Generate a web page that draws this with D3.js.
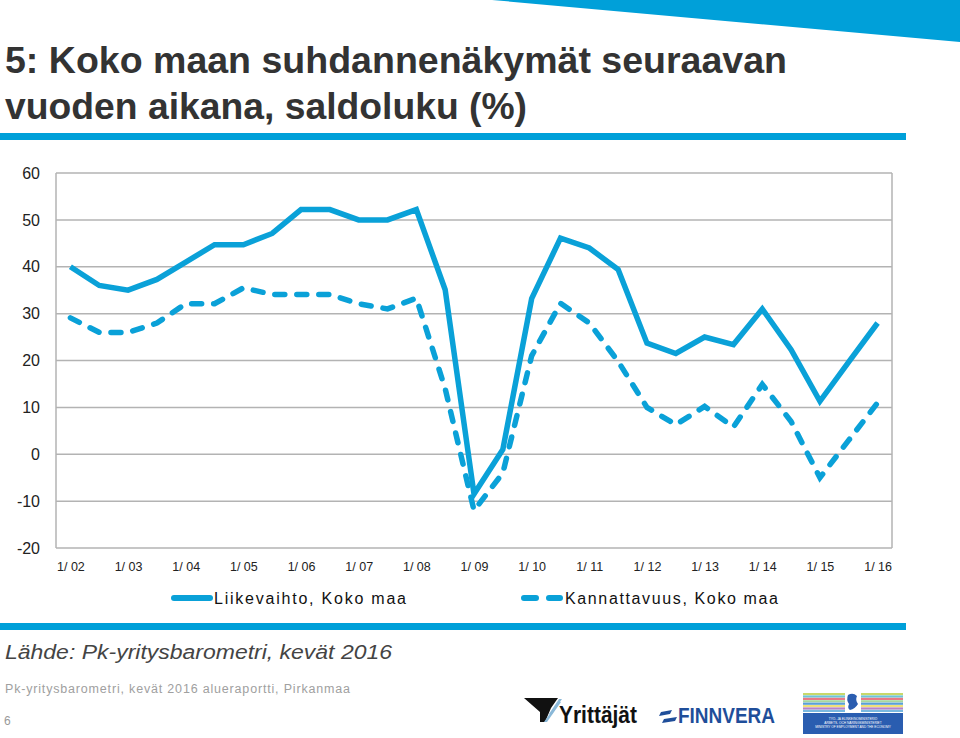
<!DOCTYPE html>
<html><head><meta charset="utf-8">
<script src="https://cdn.jsdelivr.net/npm/d3@7"></script>
<style>body{margin:0;background:#fff}svg{display:block}</style>
</head><body>
<svg id="c" width="960" height="738"></svg>
<script>
const categories = ["1/02","2/02","1/03","2/03","1/04","2/04","1/05","2/05","1/06","2/06","1/07","2/07","1/08","2/08","1/09","2/09","1/10","2/10","1/11","2/11","1/12","2/12","1/13","2/13","1/14","2/14","1/15","2/15","1/16"];
const tickCategories = ["1/02","1/03","1/04","1/05","1/06","1/07","1/08","1/09","1/10","1/11","1/12","1/13","1/14","1/15","1/16"];
const tickLabels = ["1/ 02","1/ 03","1/ 04","1/ 05","1/ 06","1/ 07","1/ 08","1/ 09","1/ 10","1/ 11","1/ 12","1/ 13","1/ 14","1/ 15","1/ 16"];
const liikevaihto = [40,36,35,37.3,41,44.7,44.7,47.1,52.2,52.2,50,50,52.2,35.1,-8.5,1,33.2,46.1,44,39.4,23.7,21.5,25,23.4,31,22.3,11.3,19.7,28];
const kannattavuus = [29.1,26,26,28,32.1,32.1,35.5,34.1,34.1,34.1,32.1,31,33.3,14,-12,-4,21,32.2,28,19.8,10,6.3,10.2,5.8,14.9,7,-5,3,11];
const yTicks = [-20,-10,0,10,20,30,40,50,60];
const yTickLabels = ["-20","-10","0","10","20","30","40","50","60"];
const seriesNames = ["Liikevaihto, Koko maa","Kannattavuus, Koko maa"];

const blue = "#0aa1d8";
const svg = d3.select("#c");
const L = 56, R = 892, T = 173, B = 548;
const x = d3.scalePoint().domain(categories).range([L, R]).padding(0.5);
const y = d3.scaleLinear().domain([-20, 60]).range([B, T]);

// top-right decoration
svg.append("polygon").attr("points","492,0 960,0 960,42").attr("fill","#00a0d9");

// title
const title = svg.append("g").attr("fill","#333").attr("font-family","'Liberation Sans Narrow','Liberation Sans',Arial,sans-serif").attr("font-weight","bold").attr("font-size",36);
title.append("text").attr("x",5).attr("y",73).attr("textLength",782).attr("lengthAdjust","spacingAndGlyphs").text("5: Koko maan suhdannenäkymät seuraavan");
title.append("text").attr("x",5).attr("y",119).attr("textLength",522).attr("lengthAdjust","spacingAndGlyphs").text("vuoden aikana, saldoluku (%)");

svg.append("rect").attr("x",0).attr("y",133).attr("width",906).attr("height",7).attr("fill","#00a0d9");

// grid
const grid = svg.append("g");
grid.selectAll("line.g").data(yTicks).join("line")
  .attr("x1",L).attr("x2",R).attr("y1",d=>y(d)).attr("y2",d=>y(d))
  .attr("stroke","#b3b3b3").attr("stroke-width",1.5);
grid.append("line").attr("x1",L).attr("x2",L).attr("y1",T).attr("y2",B).attr("stroke","#b3b3b3").attr("stroke-width",1.5);
grid.append("line").attr("x1",R).attr("x2",R).attr("y1",T).attr("y2",B).attr("stroke","#b3b3b3").attr("stroke-width",1.5);

// y axis
const yAxis = svg.append("g").attr("transform",`translate(${L},0)`)
  .call(d3.axisLeft(y).tickValues(yTicks).tickSize(0).tickPadding(16).tickFormat((d,i)=>yTickLabels[i]));
yAxis.select(".domain").remove();
yAxis.selectAll("text").attr("font-family","'Liberation Sans',Arial,sans-serif").attr("font-size",16).attr("fill","#222");

// x axis
const xAxis = svg.append("g").attr("transform",`translate(0,${B})`)
  .call(d3.axisBottom(x).tickValues(tickCategories).tickSize(0).tickPadding(14).tickFormat((d,i)=>tickLabels[i]));
xAxis.select(".domain").remove();
xAxis.selectAll("text").attr("font-family","'Liberation Sans',Arial,sans-serif").attr("font-size",12.5).attr("fill","#222");

// lines
const line = d3.line().x((d,i)=>x(categories[i])).y(d=>y(d));
svg.append("path").datum(liikevaihto).attr("d",line).attr("fill","none").attr("stroke",blue).attr("stroke-width",5.5).attr("stroke-linejoin","miter");
svg.append("path").datum(kannattavuus).attr("d",line).attr("fill","none").attr("stroke",blue).attr("stroke-width",5.5).attr("stroke-dasharray","10,12").attr("stroke-linecap","round");

// legend
const lg = svg.append("g").attr("font-family","'Liberation Sans',Arial,sans-serif").attr("font-size",16).attr("fill","#111");
lg.append("line").attr("x1",174).attr("x2",210).attr("y1",598).attr("y2",598).attr("stroke",blue).attr("stroke-width",6).attr("stroke-linecap","round");
lg.append("text").attr("x",214).attr("y",604).attr("textLength",192).attr("lengthAdjust","spacing").text(seriesNames[0]);
lg.append("line").attr("x1",524).attr("x2",560).attr("y1",598).attr("y2",598).attr("stroke",blue).attr("stroke-width",6).attr("stroke-linecap","round").attr("stroke-dasharray","12,13");
lg.append("text").attr("x",565).attr("y",604).attr("textLength",213).attr("lengthAdjust","spacing").text(seriesNames[1]);

svg.append("rect").attr("x",0).attr("y",623).attr("width",906).attr("height",7).attr("fill","#00a0d9");

// source
svg.append("text").attr("x",5).attr("y",659).attr("font-family","'Liberation Sans',Arial,sans-serif").attr("font-style","italic").attr("font-size",20).attr("fill","#444")
  .attr("textLength",387).attr("lengthAdjust","spacingAndGlyphs").text("Lähde: Pk-yritysbarometri, kevät 2016");
svg.append("text").attr("x",5).attr("y",693).attr("font-family","'Liberation Sans',Arial,sans-serif").attr("font-size",12.5).attr("fill","#a0a0a0")
  .attr("textLength",345).attr("lengthAdjust","spacing").text("Pk-yritysbarometri, kevät 2016 alueraportti, Pirkanmaa");
svg.append("text").attr("x",4).attr("y",725).attr("font-family","'Liberation Sans',Arial,sans-serif").attr("font-size",12).attr("fill","#999").text("6");

// logos
const lo = svg.append("g");
// Yrittäjät
lo.append("polygon").attr("points","524,698 558,698 551,708 545,722 540,722 540,712").attr("fill","#111");
lo.append("polygon").attr("points","549,714 559,699 562,699 552,714").attr("fill","#8ab8d8");
lo.append("polygon").attr("points","544,722 558,702 561,702 547,722").attr("fill","#8ab8d8");
lo.append("text").attr("x",559).attr("y",723).attr("font-family","'Liberation Sans',Arial,sans-serif").attr("font-weight","bold").attr("font-size",23).attr("fill","#111")
  .attr("textLength",78).attr("lengthAdjust","spacingAndGlyphs").text("Yrittäjät");
// Finnvera
lo.append("polygon").attr("points","661,712 672,710 670,714 659,716").attr("fill","#1f4e9a");
lo.append("polygon").attr("points","664,719 677,717 675,721 662,723").attr("fill","#1f4e9a");
lo.append("text").attr("x",678).attr("y",723).attr("font-family","'Liberation Sans',Arial,sans-serif").attr("font-weight","bold").attr("font-size",22).attr("fill","#1f4e9a")
  .attr("textLength",97).attr("lengthAdjust","spacingAndGlyphs").text("FINNVERA");
// Ministry
const mx = 803, my = 692;
const stripeColors = ["#c9d86a","#6ec6d8","#e87a86","#a7d7a0","#5aa0d8","#f0e07a","#b884c8","#79b8e0"];
stripeColors.forEach((c,i)=>lo.append("rect").attr("x",mx).attr("y",my+1+i*2.4).attr("width",100).attr("height",2.2).attr("fill",c));
lo.append("rect").attr("x",mx+42).attr("y",my).attr("width",16).attr("height",21).attr("fill","#fff");
lo.append("path").attr("d",`M${mx+45},${my+3} q5,-3 9,1 q-2,4 1,8 q-3,5 -8,6 q-3,-2 -1,-6 q-3,-4 -1,-9z`).attr("fill","#2a5db0");
lo.append("rect").attr("x",mx).attr("y",my+21).attr("width",100).attr("height",21).attr("fill","#2a5db0");
const mt = lo.append("g").attr("font-family","'Liberation Sans',Arial,sans-serif").attr("font-size",3.2).attr("fill","#fff").attr("text-anchor","middle");
mt.append("text").attr("x",mx+50).attr("y",my+28).text("TYÖ- JA ELINKEINOMINISTERIÖ");
mt.append("text").attr("x",mx+50).attr("y",my+32).text("ARBETS- OCH NÄRINGSMINISTERIET");
mt.append("text").attr("x",mx+50).attr("y",my+36).text("MINISTRY OF EMPLOYMENT AND THE ECONOMY");
</script>
</body></html>
